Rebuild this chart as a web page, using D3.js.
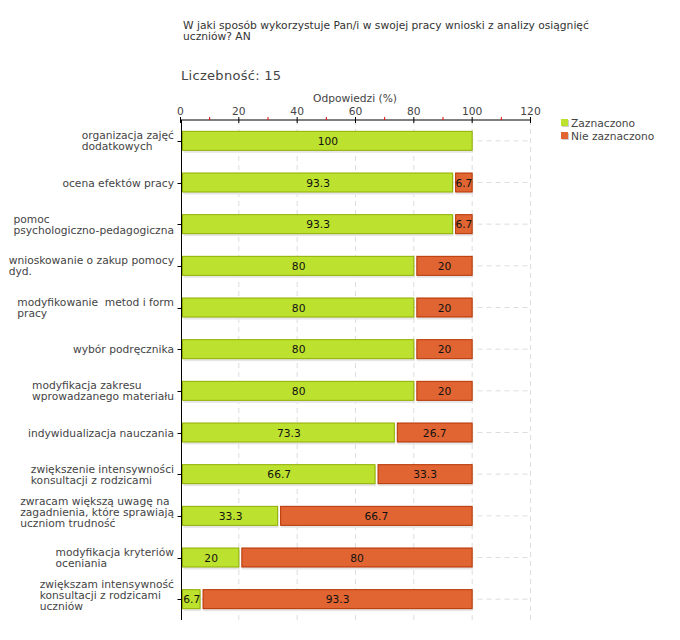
<!DOCTYPE html>
<html>
<head>
<meta charset="utf-8">
<script src="https://cdn.jsdelivr.net/npm/d3@7"></script>
<style>
  body { margin: 0; background: #fff; }
  text { font-family: "DejaVu Sans", Verdana, sans-serif; white-space: pre; }
</style>
</head>
<body>
<svg id="chart" width="680" height="640"></svg>
<script>
// category labels, split into lines as in the picture
var categories = [
  ["organizacja zajęć", "dodatkowych"],
  ["ocena efektów pracy"],
  ["pomoc", "psychologiczno-pedagogiczna"],
  ["wnioskowanie o zakup pomocy", "dyd."],
  ["modyfikowanie  metod i form", "pracy"],
  ["wybór podręcznika"],
  ["modyfikacja zakresu", "wprowadzanego materiału"],
  ["indywidualizacja nauczania"],
  ["zwiększenie intensywności", "konsultacji z rodzicami"],
  ["zwracam większą uwagę na", "zagadnienia, które sprawiają", "uczniom trudność"],
  ["modyfikacja kryteriów", "oceniania"],
  ["zwiększam intensywność", "konsultacji z rodzicami", "uczniów"]
];
var zaznaczono    = [100, 93.3, 93.3, 80, 80, 80, 80, 73.3, 66.7, 33.3, 20, 6.7];
var nieZaznaczono = [0,   6.7,  6.7,  20, 20, 20, 20, 26.7, 33.3, 66.7, 80, 93.3];
var seriesNames = ["Zaznaczono", "Nie zaznaczono"];
var majorTicks = [0, 20, 40, 60, 80, 100, 120];
var minorTicks = [10, 30, 50, 70, 90, 110];

var colors = [{fill: "#bde12f", stroke: "#8fae00"}, {fill: "#e06532", stroke: "#b43300"}];
var fs = 10.7;

var svg = d3.select("#chart");

var x = d3.scaleLinear().domain([0, 120]).range([180.5, 530.5]);
var y = d3.scaleBand()
    .domain(d3.range(categories.length))
    .range([120, 620])
    .paddingInner(0.52)
    .paddingOuter(0.26);

// title
var title = svg.append("text").attr("x", 183).attr("y", 29)
    .attr("font-size", fs).attr("fill", "#333");
title.append("tspan").attr("x", 183).text("W jaki sposób wykorzystuje Pan/i w swojej pracy wnioski z analizy osiągnięć");
title.append("tspan").attr("x", 183).attr("dy", 11).text("uczniów? AN");

svg.append("text").attr("x", 181).attr("y", 80).attr("letter-spacing", 0.3)
    .attr("font-size", 13).attr("fill", "#444").text("Liczebność: 15");

svg.append("text").attr("x", 355).attr("y", 102).attr("text-anchor", "middle")
    .attr("font-size", fs).attr("fill", "#444").text("Odpowiedzi (%)");

// grid
var grid = svg.append("g").attr("stroke", "#ddd").attr("stroke-dasharray", "5,4");
grid.selectAll(".v").data(majorTicks.slice(1)).enter().append("line")
    .attr("x1", function(d) { return x(d); }).attr("x2", function(d) { return x(d); })
    .attr("y1", 120).attr("y2", 620);
grid.selectAll(".h").data(d3.range(categories.length)).enter().append("line")
    .attr("x1", x(0)).attr("x2", x(120))
    .attr("y1", function(i) { return y(i) + y.bandwidth() / 2; })
    .attr("y2", function(i) { return y(i) + y.bandwidth() / 2; });

// stacked segments
var segs = [];
categories.forEach(function(c, i) {
  segs.push({i: i, s: 0, x0: 0, x1: zaznaczono[i], v: zaznaczono[i]});
  if (nieZaznaczono[i] > 0)
    segs.push({i: i, s: 1, x0: zaznaczono[i], x1: zaznaczono[i] + nieZaznaczono[i], v: nieZaznaczono[i]});
});

var bars = svg.append("g");
bars.selectAll(".shadow").data(segs).enter().append("rect")
    .attr("x", function(d) { return x(d.x0) + 3; })
    .attr("y", function(d) { return y(d.i) + 2; })
    .attr("width", function(d) { return x(d.x1) - x(d.x0) - 2; })
    .attr("height", y.bandwidth())
    .attr("fill", "#e6e6e6");
bars.selectAll(".bar").data(segs).enter().append("rect")
    .attr("x", function(d) { return x(d.x0) + (d.s ? 3 : 2); })
    .attr("y", function(d) { return y(d.i) + 0.5; })
    .attr("width", function(d) { return x(d.x1) - x(d.x0) - (d.s ? 3 : 2); })
    .attr("height", y.bandwidth() - 1)
    .attr("fill", function(d) { return colors[d.s].fill; })
    .attr("stroke", function(d) { return colors[d.s].stroke; });
bars.selectAll(".val").data(segs).enter().append("text")
    .attr("x", function(d) { return (x(d.x0) + x(d.x1)) / 2 + 1.5; })
    .attr("y", function(d) { return y(d.i) + y.bandwidth() / 2 + 4; })
    .attr("text-anchor", "middle").attr("font-size", fs).attr("fill", "#111")
    .text(function(d) { return d.v; });

// top axis
var ax = svg.append("g");
ax.append("line").attr("x1", x(0)).attr("x2", x(120)).attr("y1", 120).attr("y2", 120).attr("stroke", "#000");
ax.selectAll(".mt").data(majorTicks).enter().append("line")
    .attr("x1", function(d) { return x(d); }).attr("x2", function(d) { return x(d); })
    .attr("y1", 117).attr("y2", 123).attr("stroke", "#000");
ax.selectAll(".nt").data(minorTicks).enter().append("line")
    .attr("x1", function(d) { return x(d); }).attr("x2", function(d) { return x(d); })
    .attr("y1", 117).attr("y2", 120).attr("stroke", "#e00");
ax.selectAll(".tl").data(majorTicks).enter().append("text")
    .attr("x", function(d) { return x(d); }).attr("y", 115)
    .attr("text-anchor", "middle").attr("font-size", fs).attr("fill", "#444")
    .text(function(d) { return d; });

// left axis
var lx = Math.round(x(0)) + 0.5;
svg.append("line").attr("x1", lx).attr("x2", lx).attr("y1", 120).attr("y2", 620).attr("stroke", "#000");
svg.append("g").selectAll("line").data(d3.range(categories.length)).enter().append("line")
    .attr("x1", lx - 4).attr("x2", lx)
    .attr("y1", function(i) { return Math.round(y(i) + y.bandwidth() / 2) + 0.5; })
    .attr("y2", function(i) { return Math.round(y(i) + y.bandwidth() / 2) + 0.5; })
    .attr("stroke", "#000");

// category labels: left-aligned lines, block right edge at 174
var labels = svg.append("g");
categories.forEach(function(lines, i) {
  var cy = y(i) + y.bandwidth() / 2;
  var n = lines.length;
  var top = cy - (n === 3 ? 15 : (n - 1) * 5.5) + 4;
  var t = labels.append("text").attr("font-size", fs).attr("fill", "#444");
  var spans = lines.map(function(l, k) {
    return t.append("tspan").attr("y", top + k * 11).text(l);
  });
  var w = d3.max(spans, function(s) { return s.node().getComputedTextLength(); });
  spans.forEach(function(s) { s.attr("x", 174 - w); });
});

// legend
var lg = svg.append("g");
seriesNames.forEach(function(name, k) {
  var ly = 119 + k * 13;
  lg.append("rect").attr("x", 562).attr("y", ly + 1).attr("width", 7).attr("height", 7).attr("fill", "#ccc");
  lg.append("rect").attr("x", 561).attr("y", ly).attr("width", 7).attr("height", 7).attr("fill", colors[k].fill);
  lg.append("text").attr("x", 571).attr("y", ly + 8).attr("font-size", fs).attr("fill", "#444").text(name);
});
</script>
</body>
</html>
